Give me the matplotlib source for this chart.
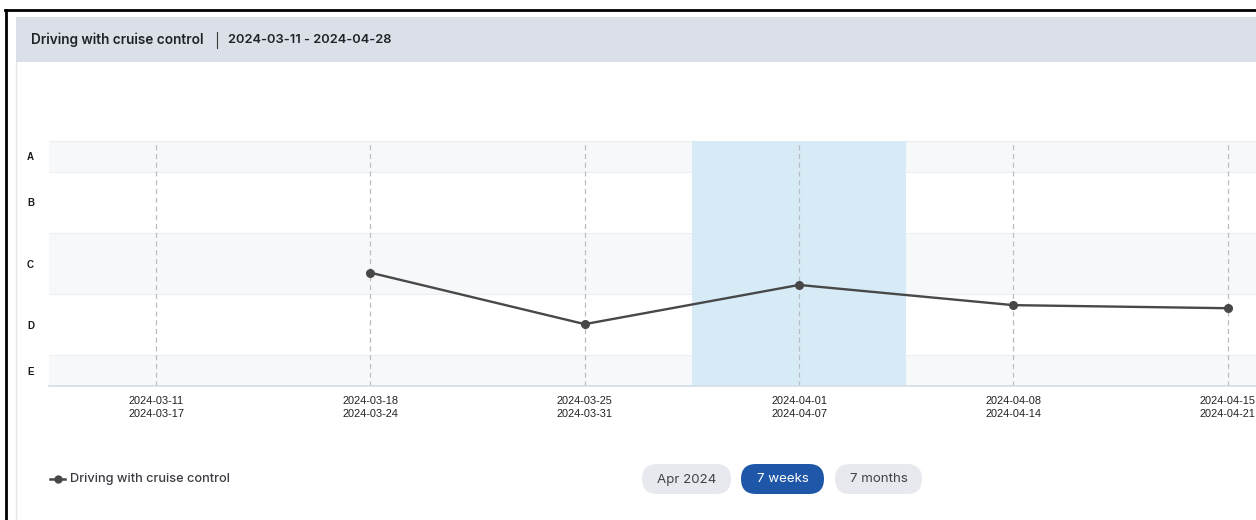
import matplotlib
matplotlib.use('Agg')
import matplotlib.pyplot as plt
from matplotlib.patches import Rectangle, FancyBboxPatch

# ---------------------------------------------------------------------------
# Data
# ---------------------------------------------------------------------------
week_starts = ['2024-03-11', '2024-03-18', '2024-03-25', '2024-04-01',
               '2024-04-08', '2024-04-15', '2024-04-22']
week_ends = ['2024-03-17', '2024-03-24', '2024-03-31', '2024-04-07',
             '2024-04-14', '2024-04-21', '2024-04-28']
# score per week (None = no data); grade scale E=0 ... A=4
scores = [None, 1.85, 1.01, 1.65, 1.32, 1.27, None]
grade_labels = ['E', 'D', 'C', 'B', 'A']
grade_pos = [0.25, 1.0, 2.0, 3.0, 3.75]
grade_edges = [0, 0.5, 1.5, 2.5, 3.5, 4.0]
highlight_week = 3

series_name = 'Driving with cruise control'
period_text = '2024-03-11 - 2024-04-28'
buttons = ['Apr 2024', '7 weeks', '7 months']
active_button = 1

# ---------------------------------------------------------------------------
# Style
# ---------------------------------------------------------------------------
W, H = 1256, 520
LINE_COLOR = '#484848'
BAND_COLOR = '#f7f8fa'
BAND_EDGE = '#eceef2'
HILITE = '#d7ebf6'
HEADER_BG = '#dbe0e8'
BLUE = '#1f57a8'
PILL_GRAY = '#e7e9ee'
UI_FONT = ['Inter', 'DejaVu Sans']
AX_FONT = ['Liberation Sans', 'DejaVu Sans']

fig = plt.figure(figsize=(W / 100, H / 100), dpi=100)
fig.patch.set_facecolor('white')

# Page overlay in pixel coordinates
ui = fig.add_axes([0, 0, 1, 1], zorder=0)
ui.set_xlim(0, W)
ui.set_ylim(H, 0)
ui.axis('off')

ui.add_patch(Rectangle((16, 17), W - 16, 45, color=HEADER_BG, lw=0))
ui.plot([5.5, 5.5], [10, H], color='black', lw=2)
ui.plot([5, W], [10, 10], color='black', lw=2)
ui.plot([15.5, 15.5], [62, H], color='#e3e5e8', lw=1)

ui.text(31, 40, series_name, fontsize=9.8, fontweight='semibold', family=UI_FONT,
        color='#1f2328', va='center', ha='left')
ui.plot([217, 217], [32, 48], color='#3a3a3a', lw=0.8)
ui.text(228, 40, period_text, fontsize=9.3, fontweight='semibold', family=UI_FONT,
        color='#1f2328', va='center', ha='left')

# Legend
ui.plot([50, 65], [479, 479], color=LINE_COLOR, lw=1.8)
ui.plot([58], [479], 'o', color=LINE_COLOR, ms=5)
ui.text(70, 479, series_name, fontsize=9.2, fontweight='medium', family=UI_FONT,
        color='#3a3d42', va='center', ha='left')

# Period selector pills
pill_x = [642, 741, 835]
pill_w = [89, 83, 87]
for i, label in enumerate(buttons):
    active = i == active_button
    ui.add_patch(FancyBboxPatch((pill_x[i], 464), pill_w[i], 30,
                                boxstyle='round,pad=0,rounding_size=15',
                                lw=0, color=BLUE if active else PILL_GRAY))
    ui.text(pill_x[i] + pill_w[i] / 2, 479.5, label, fontsize=9.6, family=UI_FONT,
            color='white' if active else '#3f4349', va='center', ha='center')

# ---------------------------------------------------------------------------
# Chart
# ---------------------------------------------------------------------------
n = len(week_starts)
px_per_week = 214.3
ax_left, ax_top, ax_bottom = 49, 141, 386
ax = fig.add_axes([ax_left / W, (H - ax_bottom) / H,
                   n * px_per_week / W, (ax_bottom - ax_top) / H], zorder=1)
ax.set_facecolor('none')
ax.set_xlim(-0.5, n - 0.5)
ax.set_ylim(grade_edges[0], grade_edges[-1])

# alternating grade bands (E, C, A shaded)
for k in range(len(grade_labels)):
    if k % 2 == 0:
        ax.axhspan(grade_edges[k], grade_edges[k + 1], color=BAND_COLOR, lw=0, zorder=0)
for e in grade_edges[1:]:
    ax.axhline(e, color=BAND_EDGE, lw=0.8, zorder=0.5)

ax.axvspan(highlight_week - 0.5, highlight_week + 0.5, color=HILITE, lw=0, zorder=1)

for i in range(n):
    ax.axvline(i, color='#b9bcc2', lw=0.9, ls=(0, (4, 3)), zorder=2)

xs = [i for i, s in enumerate(scores) if s is not None]
ys = [s for s in scores if s is not None]
ax.plot(xs, ys, color=LINE_COLOR, lw=1.7, marker='o', ms=5.5, zorder=4)

ax.set_xticks(range(n))
ax.set_xticklabels([f'{a}\n{b}' for a, b in zip(week_starts, week_ends)],
                   fontsize=7.9, family=AX_FONT, color='#222222', linespacing=1.35)
ax.tick_params(axis='both', length=0)
ax.tick_params(axis='x', pad=7)
ax.set_yticks([])

for side in ['top', 'right', 'left']:
    ax.spines[side].set_visible(False)
ax.spines['bottom'].set_color('#d3dde9')
ax.spines['bottom'].set_linewidth(1.2)

# grade labels at a fixed pixel column left of the plot
for lab, pos in zip(grade_labels, grade_pos):
    ax.annotate(lab, xy=(0, pos), xycoords=('axes fraction', 'data'),
                xytext=(-22, -1), textcoords='offset pixels', fontsize=7,
                fontweight='bold', family=AX_FONT, color='#1a1a1a',
                ha='left', va='center')

fig.savefig('out.png', dpi=100)
